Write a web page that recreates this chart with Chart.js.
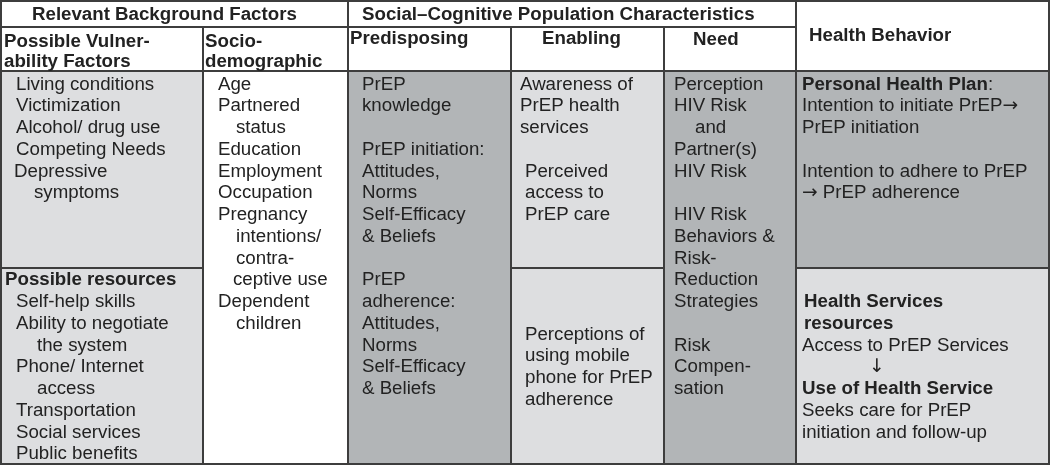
<!DOCTYPE html>
<html><head><meta charset="utf-8">
<script src="https://cdn.jsdelivr.net/npm/chart.js@4/dist/chart.umd.min.js"></script>
<style>html,body{margin:0;padding:0;background:#fff}#wrap{width:1050px;height:465px;position:relative}</style>
</head><body><div id="wrap"><canvas id="c"></canvas></div>
<script>
// ---------- DATA (text content) ----------
const groupHeaders = ["Relevant Background Factors", "Social\u2013Cognitive Population Characteristics", "Health Behavior"];
const columnHeaders = [["Possible Vulner-", "ability Factors"], ["Socio-", "demographic"], ["Predisposing"], ["Enabling"], ["Need"]];
const vulnerabilityFactors = ["Living conditions", "Victimization", "Alcohol/ drug use", "Competing Needs", "Depressive", "symptoms"];
const possibleResources = ["Possible resources", "Self-help skills", "Ability to negotiate", "the system", "Phone/ Internet", "access", "Transportation", "Social services", "Public benefits"];
const sociodemographic = ["Age", "Partnered", "status", "Education", "Employment", "Occupation", "Pregnancy", "intentions/", "contra-", "ceptive use", "Dependent", "children"];
const predisposing = ["PrEP", "knowledge", "", "PrEP initiation:", "Attitudes,", "Norms", "Self-Efficacy", "& Beliefs", "", "PrEP", "adherence:", "Attitudes,", "Norms", "Self-Efficacy", "& Beliefs"];
const enablingServices = ["Awareness of", "PrEP health", "services", "", "Perceived", "access to", "PrEP care"];
const enablingMobile = ["Perceptions of", "using mobile", "phone for PrEP", "adherence"];
const needFactors = ["Perception", "HIV Risk", "and", "Partner(s)", "HIV Risk", "", "HIV Risk", "Behaviors &", "Risk-", "Reduction", "Strategies", "", "Risk", "Compen-", "sation"];
const personalHealthPlan = ["Personal Health Plan:", "Intention to initiate PrEP\u2192", "PrEP initiation", "", "Intention to adhere to PrEP", "\u2192 PrEP adherence"];
const healthServices = ["Health Services", "resources", "Access to PrEP Services", "\u2193", "Use of Health Service", "Seeks care for PrEP", "initiation and follow-up"];

// ---------- LAYOUT / STYLE ----------
const colEdges = [1, 203, 348, 511, 664, 796, 1049];
const rowEdges = [1, 27, 71, 268, 464];
const LIGHT = '#dddee0', DARK = '#b2b5b7', WHITE = '#ffffff', BORDER = '#3d3d3d', INK = '#222222';
const FONT = "'Liberation Sans', Arial, sans-serif";
const ARROW_FONT = "'DejaVu Sans', sans-serif";
const FS = 18.7, LINE0 = 83, LINE_H = 21.75;

// cells: [colStart, colEnd, rowStart, rowEnd, fill]
const cells = [
  [0, 2, 0, 1, WHITE], [2, 5, 0, 1, WHITE], [5, 6, 0, 2, WHITE],
  [0, 1, 1, 2, WHITE], [1, 2, 1, 2, WHITE], [2, 3, 1, 2, WHITE], [3, 4, 1, 2, WHITE], [4, 5, 1, 2, WHITE],
  [0, 1, 2, 3, LIGHT], [0, 1, 3, 4, LIGHT],
  [1, 2, 2, 4, WHITE],
  [2, 3, 2, 4, DARK],
  [3, 4, 2, 3, LIGHT], [3, 4, 3, 4, LIGHT],
  [4, 5, 2, 4, DARK],
  [5, 6, 2, 3, DARK], [5, 6, 3, 4, LIGHT]
];

// header texts: [text, x, centerY]
const headerTexts = [
  [groupHeaders[0], 32, 13], [groupHeaders[1], 362, 13], [groupHeaders[2], 809, 34],
  [columnHeaders[0][0], 4, 40], [columnHeaders[0][1], 4, 60],
  [columnHeaders[1][0], 205, 40], [columnHeaders[1][1], 205, 60],
  [columnHeaders[2][0], 350, 37], [columnHeaders[3][0], 542, 37], [columnHeaders[4][0], 693, 38]
];

// body blocks
const blocks = [
  { col: 0, r: 0, lines: vulnerabilityFactors, ind: [15, 15, 15, 15, 13, 33] },
  { col: 0, r: 9, lines: possibleResources, ind: [4, 15, 15, 36, 15, 36, 15, 15, 15], bold: { 0: 99 } },
  { col: 1, r: 0, lines: sociodemographic, ind: [15, 15, 33, 15, 15, 15, 15, 33, 33, 30, 15, 33] },
  { col: 2, r: 0, lines: predisposing, ind: 14 },
  { col: 3, r: 0, lines: enablingServices, ind: [9, 9, 9, 9, 14, 14, 14] },
  { col: 3, r: 11.5, lines: enablingMobile, ind: 14 },
  { col: 4, r: 0, lines: needFactors, ind: [10, 10, 31, 10, 10, 10, 10, 10, 10, 10, 10, 10, 10, 10, 10] },
  { col: 5, r: 0, lines: personalHealthPlan, ind: 6, bold: { 0: 20 } },
  { col: 5, r: 10, lines: healthServices, ind: [8, 8, 6, 73, 6, 6, 6], bold: { 0: 99, 1: 99, 4: 99 } }
];

function drawRuns(ctx, text, x, y, bold) {
  // split into arrow / non-arrow runs
  const re = /([\u2190-\u21FF]+)/;
  text.split(re).forEach(part => {
    if (!part) return;
    const isArrow = re.test(part);
    ctx.font = `${bold ? 'bold ' : ''}${FS}px ${isArrow ? ARROW_FONT : FONT}`;
    ctx.fillText(part, x, y);
    x += ctx.measureText(part).width;
  });
  return x;
}

const tablePlugin = {
  id: 'table',
  afterDraw(chart) {
    const ctx = chart.ctx, xs = chart.scales.x, ys = chart.scales.y;
    const X = v => xs.getPixelForValue(v), Y = v => ys.getPixelForValue(v);
    ctx.save();
    cells.forEach(([c0, c1, r0, r1, fill]) => {
      ctx.fillStyle = fill;
      ctx.fillRect(X(colEdges[c0]), Y(rowEdges[r0]), X(colEdges[c1]) - X(colEdges[c0]), Y(rowEdges[r1]) - Y(rowEdges[r0]));
    });
    ctx.strokeStyle = BORDER; ctx.lineWidth = 2;
    cells.forEach(([c0, c1, r0, r1]) => {
      ctx.strokeRect(X(colEdges[c0]), Y(rowEdges[r0]), X(colEdges[c1]) - X(colEdges[c0]), Y(rowEdges[r1]) - Y(rowEdges[r0]));
    });
    ctx.fillStyle = INK; ctx.textBaseline = 'alphabetic'; ctx.textAlign = 'left';
    const base = cy => cy + 6.6;
    headerTexts.forEach(([t, x, cy]) => drawRuns(ctx, t, X(x), Y(base(cy)), true));
    blocks.forEach(b => {
      b.lines.forEach((t, i) => {
        if (!t) return;
        const ind = Array.isArray(b.ind) ? b.ind[i] : b.ind;
        let x = X(colEdges[b.col] + ind);
        const y = Y(base(LINE0 + (b.r + i) * LINE_H));
        const nb = b.bold && b.bold[i] ? Math.min(b.bold[i], t.length) : 0;
        if (nb > 0) x = drawRuns(ctx, t.slice(0, nb), x, y, true);
        if (nb < t.length) drawRuns(ctx, t.slice(nb), x, y, false);
      });
    });
    ctx.restore();
  }
};

new Chart(document.getElementById('c'), {
  type: 'scatter',
  data: { datasets: [{ data: [], pointRadius: 0 }] },
  options: {
    responsive: true, maintainAspectRatio: false, animation: false,
    layout: { padding: 0 },
    plugins: { legend: { display: false }, tooltip: { enabled: false } },
    scales: {
      x: { type: 'linear', min: 0, max: 1050, display: false },
      y: { type: 'linear', min: 0, max: 465, reverse: true, display: false }
    }
  },
  plugins: [tablePlugin]
});
</script></body></html>
